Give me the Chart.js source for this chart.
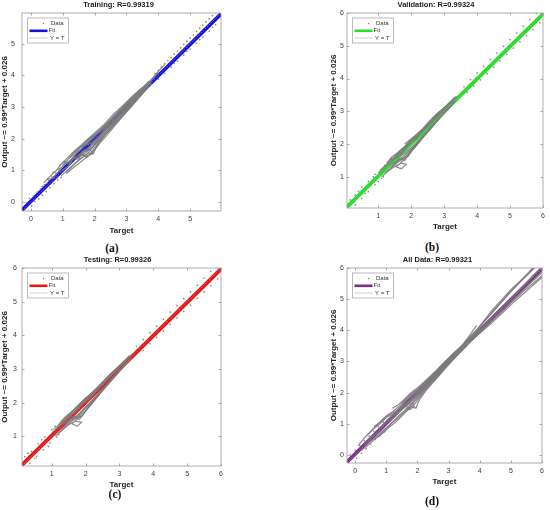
<!DOCTYPE html>
<html><head><meta charset="utf-8">
<script src="https://cdn.jsdelivr.net/npm/chart.js@4.4.1/dist/chart.umd.min.js"></script>
<style>
html,body{margin:0;padding:0;background:#fff;}
#wrap{position:relative;width:550px;height:510px;background:#fff;overflow:hidden;}
.pane{position:absolute;width:275px;height:240px;}
.sub{position:absolute;font-family:'Liberation Serif','Times New Roman',serif;font-weight:bold;font-size:11.5px;color:#111;transform:translate(-50%,-50%);white-space:nowrap;}
</style></head><body>
<div id="wrap">
  <div class="pane" style="left:0;top:0"><canvas id="cA"></canvas></div>
  <div class="pane" style="left:275px;top:0"><canvas id="cB"></canvas></div>
  <div class="pane" style="left:0;top:255px"><canvas id="cC"></canvas></div>
  <div class="pane" style="left:275px;top:255px"><canvas id="cD"></canvas></div>
  <div class="sub" style="left:112px;top:248px">(a)</div>
  <div class="sub" style="left:432px;top:247px">(b)</div>
  <div class="sub" style="left:115px;top:494px">(c)</div>
  <div class="sub" style="left:432px;top:501px">(d)</div>
</div>
<script>
// ---------------- DATA ----------------
const panelTitles = ['Training: R=0.99319', 'Validation: R=0.99324', 'Testing: R=0.99326', 'All Data: R=0.99321'];
const legendLabels = ['Data', 'Fit', 'Y = T'];
const xAxisTitle = 'Target';
const yAxisTitle = 'Output ~= 0.99*Target + 0.026';

const rangeA = [-0.28, 5.97];
const rangeB = [0.05, 6.0];
const rangeC = [0.12, 6.0];
const rangeD = [-0.26, 6.0];

const ticksA = [0, 1, 2, 3, 4, 5];
const ticksB = [1, 2, 3, 4, 5, 6];
const ticksC = [1, 2, 3, 4, 5, 6];
const ticksD = [0, 1, 2, 3, 4, 5, 6];

// fit lines (Output ~= 0.99*Target + 0.026) end points
const fitA = [[-0.28, -0.25], [5.97, 5.94]];
const fitB = [[0.05, 0.08], [6.0, 5.97]];
const fitC = [[0.12, 0.15], [6.0, 5.97]];
const fitD = [[-0.26, -0.23], [6.0, 5.97]];

// Y = T lines
const idA = [[-0.28, -0.28], [5.97, 5.97]];
const idB = [[0.05, 0.05], [6.0, 6.0]];
const idC = [[0.12, 0.12], [6.0, 6.0]];
const idD = [[-0.26, -0.26], [6.0, 6.0]];

// scattered data points
const dotsA = [[-0.15,-0.02],[-0.05,0.12],[0.02,-0.12],[0.08,0.2],[0.12,0.02],[0.2,0.32],[0.25,0.1],[0.3,0.42],[0.36,0.22],[0.42,0.55],[0.48,0.33],[0.55,0.68],[0.6,0.45],[0.66,0.8],[0.72,0.58],[0.78,0.92],[0.84,0.7],[0.9,1.05],[0.95,0.78],[0.5,0.6],[0.7,0.95],[0.35,0.5],
  [3.9,4.06],[4.0,4.16],[4.1,4.26],[4.2,4.37],[4.3,4.47],[4.4,4.57],[4.5,4.67],[4.6,4.77],[4.7,4.87],[4.8,4.98],[4.9,5.08],[5.0,5.18],[5.1,5.28],[5.2,5.39],[5.3,5.49],[5.4,5.59],[5.5,5.69],[5.6,5.79],[5.7,5.89],[5.8,5.99],
  [4.0,3.88],[4.2,4.07],[4.4,4.26],[4.6,4.45],[4.8,4.64],[5.0,4.83],[5.2,5.02],[5.4,5.21],[5.6,5.4],[5.8,5.6],
  [4.5,4.38],[4.9,4.76],[5.3,5.13],[5.7,5.52]];
const dotsB = [[0.15,0.3],[0.3,0.45],[0.5,0.68],[0.7,0.86],[0.9,1.08],[3.6,3.75],[3.8,3.97],[4.0,4.17],[4.2,4.37],[4.4,4.58],[4.6,4.78],[4.8,4.98],[5.0,5.19],[5.2,5.39],[5.4,5.6],[5.6,5.8],[5.8,5.99],
  [0.3,0.14],[0.5,0.34],[0.7,0.55],[0.9,0.76],[1.1,0.95],[3.7,3.58],[3.9,3.77],[4.1,3.96],[4.3,4.15],[4.5,4.35],[4.7,4.54],[4.9,4.74],[5.1,4.93],[5.3,5.12],[5.5,5.31],[5.7,5.5],[5.9,5.7],
  [0.4,0.55],[0.6,0.5],[0.85,1.0],[1.0,0.85],[1.2,1.35],[1.15,1.0],[1.3,1.2],[1.4,1.55]];
const dotsC = [[0.2,0.4],[0.4,0.55],[0.6,0.78],[0.8,0.98],[1.0,1.2],[3.5,3.68],[3.7,3.88],[3.9,4.08],[4.1,4.28],[4.3,4.48],[4.5,4.69],[4.7,4.89],[4.9,5.09],[5.1,5.29],[5.3,5.49],[5.5,5.7],[5.7,5.9],[5.9,6.0],
  [0.35,0.2],[0.55,0.4],[0.75,0.6],[0.95,0.8],[1.15,0.98],[3.7,3.55],[3.9,3.75],[4.1,3.94],[4.3,4.13],[4.5,4.33],[4.7,4.52],[4.9,4.71],[5.1,4.9],[5.3,5.1],[5.5,5.29],[5.7,5.48],[5.9,5.68],
  [0.3,0.5],[0.5,0.35],[0.7,0.9],[0.9,0.7],[1.1,1.3],[1.2,1.05],[1.3,1.45]];
const dotsD = [[-0.15,0.0],[0.0,0.15],[0.05,-0.1],[0.15,0.3],[0.2,0.05],[0.3,0.45],[0.35,0.2],[0.45,0.6],[0.5,0.35],[0.6,0.75],[0.65,0.5],[0.75,0.9],[0.8,0.62],[0.9,1.05],[0.95,0.75]];

// connected data traces
const tracesA = [
  [[0.85,1.0],[1.05,1.18],[1.25,1.33],[1.45,1.55],[1.65,1.75],[1.9,1.97],[2.2,2.27],[2.6,2.66],[3.0,3.07],[3.4,3.47],[3.8,3.9],[4.2,4.35]],
  [[0.95,0.84],[1.2,1.04],[1.4,1.24],[1.6,1.4],[1.8,1.55],[1.95,1.52],[2.05,1.72],[2.3,2.1],[2.7,2.56],[3.1,3.0],[3.5,3.45],[3.8,3.75]],
  [[1.0,1.15],[1.2,1.38],[1.35,1.58],[1.5,1.7],[1.7,1.8],[1.9,1.86],[2.1,2.04],[2.5,2.5],[2.9,2.93],[3.3,3.35],[3.7,3.72]],
  [[1.2,1.25],[1.45,1.45],[1.65,1.6],[1.85,1.66],[1.95,1.55],[1.78,1.45],[1.6,1.52],[1.82,1.72],[2.1,1.96],[2.4,2.3],[2.8,2.72],[3.2,3.16],[3.6,3.58]],
  [[1.1,0.96],[1.3,1.15],[1.55,1.36],[1.75,1.5],[2.0,1.8],[2.2,2.0],[2.5,2.36],[2.8,2.74],[3.2,3.2],[3.6,3.62],[4.0,4.1]],
  [[1.3,1.5],[1.5,1.66],[1.7,1.9],[1.9,2.06],[2.1,2.2],[2.4,2.46],[2.7,2.8],[3.0,3.12],[3.4,3.5],[3.7,3.82]],
  [[1.5,1.45],[1.7,1.62],[1.95,1.75],[2.2,2.12],[2.45,2.4],[2.75,2.68],[3.05,3.0],[3.35,3.3],[3.65,3.66]],
  [[2.0,2.1],[2.3,2.38],[2.6,2.72],[2.9,3.0],[3.2,3.28],[3.5,3.55],[3.75,3.75]],
  [[0.9,1.15],[1.05,1.28],[1.2,1.2],[1.35,1.42],[1.5,1.35],[1.6,1.6],[1.75,1.68]],
  [[0.4,0.6],[0.6,0.82],[0.8,1.0],[0.95,1.2],[1.1,1.3]],
  [[1.0,1.25],[1.2,1.45],[1.4,1.65],[1.6,1.82],[1.8,2.0],[2.0,2.18],[2.3,2.45],[2.6,2.78],[2.9,3.06],[3.2,3.36],[3.5,3.62]],
  [[1.1,0.9],[1.35,1.1],[1.6,1.3],[1.85,1.5],[2.1,1.85],[2.4,2.2],[2.7,2.5],[3.0,2.85],[3.3,3.2],[3.6,3.55]],
  [[1.4,1.35],[1.6,1.5],[1.75,1.42],[1.95,1.6],[2.2,1.9],[2.5,2.25],[2.8,2.62],[3.1,2.95],[3.4,3.3],[3.7,3.65]],
  [[1.2,1.4],[1.4,1.52],[1.55,1.75],[1.75,1.85],[2.0,2.12],[2.3,2.4],[2.6,2.7],[2.95,3.05],[3.3,3.42],[3.6,3.7]],
  [[1.5,1.4],[1.7,1.55],[1.9,1.7],[2.1,1.92],[2.35,2.18],[2.65,2.5],[2.95,2.82],[3.25,3.15],[3.55,3.5]],
  [[1.6,1.75],[1.8,1.95],[2.05,2.15],[2.3,2.32],[2.6,2.6],[2.9,2.9],[3.2,3.2],[3.5,3.52],[3.8,3.85]],
  [[1.7,1.6],[1.9,1.8],[2.1,2.0],[2.35,2.28],[2.6,2.52],[2.85,2.8],[3.1,3.08],[3.4,3.38]],
  [[0.5,0.72],[0.7,0.75],[0.85,0.95],[1.0,1.02],[1.15,1.12],[1.3,1.28]]
];
const tracesB = [
  [[1.0,1.12],[1.2,1.3],[1.4,1.45],[1.6,1.68],[1.8,1.85],[2.0,2.06],[2.3,2.36],[2.6,2.66],[2.9,2.98],[3.2,3.28]],
  [[1.1,1.0],[1.3,1.18],[1.5,1.32],[1.7,1.42],[1.85,1.38],[1.7,1.25],[1.55,1.3],[1.75,1.5],[1.95,1.72],[2.2,2.0],[2.5,2.38],[2.8,2.72],[3.1,3.05]],
  [[1.25,1.4],[1.4,1.6],[1.6,1.75],[1.8,1.92],[2.0,2.15],[2.2,2.3],[2.5,2.6],[2.8,2.92],[3.1,3.2],[3.35,3.45]],
  [[1.35,1.25],[1.55,1.45],[1.75,1.58],[1.9,1.62],[2.05,1.85],[2.3,2.15],[2.6,2.5],[2.9,2.85],[3.2,3.15]],
  [[1.5,1.55],[1.7,1.7],[1.9,1.98],[2.1,2.12],[2.4,2.45],[2.7,2.78],[3.0,3.08],[3.3,3.35]],
  [[1.6,1.6],[1.85,1.75],[2.1,1.98],[2.35,2.25],[2.65,2.58],[2.95,2.9],[3.25,3.22]],
  [[1.8,2.0],[2.05,2.2],[2.3,2.42],[2.55,2.7],[2.8,2.95],[3.05,3.15]],
  [[1.05,1.2],[1.25,1.38],[1.45,1.55],[1.65,1.78],[1.85,1.95],[2.1,2.2],[2.4,2.5],[2.7,2.82],[3.0,3.1],[3.3,3.4]],
  [[1.2,1.1],[1.4,1.28],[1.6,1.45],[1.8,1.6],[2.0,1.82],[2.25,2.1],[2.55,2.42],[2.85,2.78],[3.15,3.1]],
  [[1.4,1.35],[1.6,1.52],[1.75,1.62],[1.95,1.8],[2.15,2.02],[2.45,2.35],[2.75,2.68],[3.05,3.0],[3.35,3.32]],
  [[1.3,1.45],[1.5,1.62],[1.7,1.82],[1.9,2.02],[2.15,2.22],[2.45,2.52],[2.75,2.85],[3.05,3.12]],
  [[1.5,1.4],[1.65,1.55],[1.8,1.5],[1.9,1.65],[2.1,1.9],[2.4,2.28],[2.7,2.62],[3.0,2.95],[3.3,3.28]],
  [[1.7,1.82],[1.95,2.05],[2.2,2.28],[2.5,2.55],[2.8,2.85],[3.1,3.18],[3.4,3.45]]
];
const tracesC = [
  [[1.0,1.1],[1.2,1.28],[1.4,1.45],[1.6,1.66],[1.8,1.85],[2.0,2.06],[2.3,2.35],[2.6,2.66],[2.9,2.97],[3.2,3.27]],
  [[1.1,1.0],[1.3,1.18],[1.5,1.35],[1.7,1.45],[1.88,1.42],[1.75,1.3],[1.6,1.38],[1.8,1.55],[2.0,1.75],[2.25,2.05],[2.55,2.42],[2.85,2.75],[3.15,3.1]],
  [[1.2,1.35],[1.4,1.58],[1.6,1.74],[1.8,1.92],[2.0,2.14],[2.25,2.32],[2.55,2.62],[2.85,2.94],[3.15,3.22]],
  [[1.3,1.22],[1.5,1.42],[1.7,1.56],[1.9,1.6],[2.05,1.82],[2.3,2.12],[2.6,2.48],[2.9,2.84],[3.2,3.16]],
  [[1.5,1.6],[1.7,1.72],[1.9,1.98],[2.1,2.1],[2.4,2.44],[2.7,2.76],[3.0,3.06],[3.3,3.36]],
  [[1.6,1.5],[1.85,1.72],[2.1,1.96],[2.35,2.24],[2.65,2.56],[2.95,2.88],[3.25,3.22]],
  [[1.8,1.95],[2.05,2.18],[2.3,2.4],[2.55,2.66],[2.8,2.9],[3.05,3.14]],
  [[1.05,1.2],[1.25,1.38],[1.45,1.56],[1.65,1.78],[1.85,1.96],[2.1,2.2],[2.4,2.5],[2.7,2.82],[3.0,3.1],[3.3,3.4]],
  [[1.2,1.1],[1.4,1.28],[1.6,1.46],[1.8,1.6],[2.0,1.84],[2.25,2.1],[2.55,2.42],[2.85,2.78],[3.15,3.1]],
  [[1.4,1.38],[1.6,1.55],[1.78,1.62],[1.95,1.82],[2.15,2.02],[2.45,2.36],[2.75,2.68],[3.05,3.0],[3.35,3.33]],
  [[1.3,1.45],[1.5,1.64],[1.7,1.84],[1.9,2.02],[2.15,2.24],[2.45,2.54],[2.75,2.86],[3.05,3.14]],
  [[1.5,1.45],[1.65,1.58],[1.82,1.5],[1.92,1.66],[2.1,1.9],[2.4,2.28],[2.7,2.62],[3.0,2.96],[3.3,3.28]],
  [[1.7,1.84],[1.95,2.06],[2.2,2.3],[2.5,2.56],[2.8,2.86],[3.1,3.2],[3.4,3.46]]
];
const tracesD = [
  [[0.1,0.3],[0.3,0.55],[0.5,0.75],[0.7,0.95],[0.9,1.15],[1.1,1.3],[1.3,1.4],[1.5,1.55],[1.7,1.7],[1.9,1.9],[2.2,2.2],[2.6,2.62],[3.0,3.03],[3.4,3.45],[3.9,4.15]],
  [[0.2,0.15],[0.4,0.3],[0.6,0.48],[0.8,0.65],[1.0,0.85],[1.2,1.05],[1.4,1.2],[1.6,1.4],[1.8,1.55],[1.95,1.5],[2.05,1.75],[2.3,2.1],[2.7,2.55],[3.1,3.02],[3.5,3.48]],
  [[0.4,0.65],[0.6,0.85],[0.8,1.0],[1.0,1.2],[1.2,1.3],[1.4,1.4],[1.6,1.6],[1.8,1.78],[2.0,1.96],[2.4,2.4],[2.8,2.82],[3.2,3.22],[3.6,3.62],[4.4,4.65],[5.0,5.3],[5.75,6.0]],
  [[0.5,0.45],[0.7,0.6],[0.9,0.78],[1.1,0.95],[1.3,1.15],[1.5,1.35],[1.7,1.5],[1.9,1.75],[2.2,2.08],[2.5,2.4],[2.9,2.85],[3.3,3.3],[3.7,3.7],[4.5,4.42],[5.2,5.1],[6.0,5.9]],
  [[1.0,1.1],[1.2,1.25],[1.4,1.48],[1.6,1.7],[1.8,1.88],[2.0,2.05],[2.3,2.35],[2.7,2.75],[3.1,3.15],[3.5,3.52],[4.2,4.2],[5.0,5.0],[6.0,6.05]],
  [[1.3,1.3],[1.5,1.45],[1.7,1.62],[1.85,1.65],[1.9,1.55],[1.75,1.45],[1.65,1.55],[1.85,1.75],[2.1,1.98],[2.4,2.32],[2.8,2.72],[3.2,3.15],[3.6,3.55],[4.4,4.25],[5.2,5.0],[6.0,5.7]],
  [[1.5,1.65],[1.7,1.85],[1.9,2.02],[2.1,2.15],[2.4,2.46],[2.7,2.8],[3.0,3.1],[3.4,3.48],[3.8,3.9],[4.3,4.45],[5.0,5.25],[5.8,6.05]],
  [[2.0,1.9],[2.3,2.2],[2.6,2.5],[2.9,2.85],[3.2,3.18],[3.5,3.45],[4.0,3.92],[4.7,4.6],[5.5,5.4],[6.0,5.85]],
  [[0.3,0.3],[0.5,0.55],[0.7,0.7],[0.9,0.95],[1.1,1.1],[1.3,1.25],[1.5,1.5],[1.7,1.65],[2.0,2.0],[2.4,2.36],[2.8,2.78],[3.2,3.2],[3.6,3.6],[4.0,4.05]],
  [[0.6,0.9],[0.8,1.05],[1.0,1.25],[1.2,1.38],[1.4,1.55],[1.6,1.75],[1.8,1.95],[2.1,2.2],[2.5,2.58],[2.9,2.98],[3.3,3.38],[3.7,3.78]],
  [[0.7,0.55],[0.9,0.7],[1.1,0.9],[1.3,1.05],[1.5,1.25],[1.7,1.45],[1.9,1.62],[2.15,1.95],[2.45,2.3],[2.8,2.7],[3.2,3.12],[3.6,3.52]],
  [[1.2,1.5],[1.4,1.62],[1.6,1.8],[1.8,2.0],[2.0,2.15],[2.3,2.42],[2.6,2.7],[2.9,3.0],[3.2,3.3],[3.5,3.55]],
  [[1.6,1.45],[1.8,1.6],[2.0,1.82],[2.3,2.15],[2.6,2.48],[2.9,2.8],[3.2,3.12],[3.5,3.45],[3.9,3.85],[4.6,4.5],[5.4,5.25],[6.0,5.75]],
  [[3.5,3.6],[3.9,4.0],[4.5,4.7],[5.1,5.35],[5.7,6.0]]
];

// ---------------- STYLE / LAYOUT ----------------
const fitColors = ['#1212dc', '#26e026', '#ec1414', '#7b2d8b'];
const layouts = [
  {padL:0,  yW:22, padR:54, top:13, xH:29, xTitlePad:4.2, xTickPad:3.5, yTickPad:7, titleDX:-3},
  {padL:54, yW:18, padR:7,  top:13, xH:32, xTitlePad:8.5, xTickPad:3.5, yTickPad:3, titleDX:-9},
  {padL:0,  yW:22, padR:54, top:13, xH:29, xTitlePad:5.2, xTickPad:3.5, yTickPad:5, titleDX:-4},
  {padL:54, yW:18, padR:8,  top:13, xH:32, xTitlePad:8.5, xTickPad:3.5, yTickPad:3, titleDX:-7}
];
const FONT = "'Liberation Sans', Arial, sans-serif";
Chart.defaults.font.family = FONT;

const decorPlugin = {
  id: 'decor',
  afterDatasetsDraw(chart, args, opts) {
    const ctx = chart.ctx, a = chart.chartArea;
    ctx.save();
    ctx.strokeStyle = '#8a8a8a'; ctx.lineWidth = 0.7;
    const xs = chart.scales.x, ys = chart.scales.y;
    xs.ticks.forEach(t => {
      const p = Math.round(xs.getPixelForValue(t.value)) + 0.5;
      ctx.beginPath(); ctx.moveTo(p, a.bottom); ctx.lineTo(p, a.bottom - 2.5);
      ctx.moveTo(p, a.top); ctx.lineTo(p, a.top + 2.5); ctx.stroke();
    });
    ys.ticks.forEach(t => {
      const p = Math.round(ys.getPixelForValue(t.value)) + 0.5;
      ctx.beginPath(); ctx.moveTo(a.left, p); ctx.lineTo(a.left + 2.5, p);
      ctx.moveTo(a.right, p); ctx.lineTo(a.right - 2.5, p); ctx.stroke();
    });
    ctx.strokeStyle = '#9a9a9a'; ctx.lineWidth = 0.8;
    ctx.strokeRect(a.left, a.top, a.right - a.left, a.bottom - a.top);
    ctx.fillStyle = '#1a1a1a';
    ctx.font = 'bold 7.5px ' + FONT;
    ctx.textAlign = 'center'; ctx.textBaseline = 'middle';
    ctx.fillText(opts.title, (a.left + a.right) / 2 + opts.dx, a.top - 8);
    const lx = a.left + 5.5, ly = a.top + 5, lw = 41, lh = 25;
    ctx.fillStyle = '#fff'; ctx.fillRect(lx, ly, lw, lh);
    ctx.strokeStyle = '#a0a0a0'; ctx.lineWidth = 0.7; ctx.strokeRect(lx, ly, lw, lh);
    ctx.font = '6px ' + FONT; ctx.textAlign = 'left';
    const rows = [ly + 5.5, ly + 12.8, ly + 20];
    ctx.fillStyle = '#777'; ctx.beginPath(); ctx.arc(lx + 16, rows[0], 0.7, 0, Math.PI * 2); ctx.fill();
    ctx.strokeStyle = opts.color; ctx.lineWidth = 2.6;
    ctx.beginPath(); ctx.moveTo(lx + 2, rows[1]); ctx.lineTo(lx + 20, rows[1]); ctx.stroke();
    ctx.strokeStyle = '#b0b0b0'; ctx.lineWidth = 0.6;
    ctx.beginPath(); ctx.moveTo(lx + 2, rows[2]); ctx.lineTo(lx + 20, rows[2]); ctx.stroke();
    ctx.fillStyle = '#333';
    ctx.fillText(legendLabels[0], lx + 23.5, rows[0]);
    ctx.fillText(legendLabels[1], lx + 21, rows[1]);
    ctx.fillText(legendLabels[2], lx + 22.5, rows[2]);
    ctx.restore();
  }
};

const pts = arr => arr.map(p => ({x: p[0], y: p[1]}));

function makeChart(id, idx, range, ticks, dots, traces, fit, ident) {
  const L = layouts[idx];
  const datasets = [];
  traces.forEach(t => datasets.push({label: legendLabels[0], data: pts(t), showLine: true, borderColor: 'rgba(125,125,125,0.85)', borderWidth: 1.3, pointRadius: 0, order: 1}));
  datasets.push({label: legendLabels[0], data: pts(dots), showLine: false, pointRadius: 0.85, pointBackgroundColor: '#8a8a8a', pointBorderWidth: 0, order: 1});
  datasets.push({label: legendLabels[2], data: pts(ident), showLine: true, borderColor: '#a0a0a0', borderWidth: 0.7, borderDash: [1.5, 1.5], pointRadius: 0, order: 2});
  datasets.push({label: legendLabels[1], data: pts(fit), showLine: true, borderColor: fitColors[idx], borderWidth: 3.8, pointRadius: 0, order: 3});
  const axisCommon = (isX) => ({
    type: 'linear', min: range[0], max: range[1],
    afterBuildTicks: s => { s.ticks = ticks.map(v => ({value: v})); },
    grid: {display: false, drawTicks: false},
    border: {display: false},
    ticks: {padding: isX ? L.xTickPad : L.yTickPad, font: {size: 7}, color: '#3c3c3c', autoSkip: false, maxRotation: 0, callback: v => String(v)},
    title: {display: true, text: isX ? xAxisTitle : yAxisTitle, color: '#262626', font: {size: 8, weight: 'bold'},
            padding: isX ? {top: 0, bottom: L.xTitlePad} : {top: 0, bottom: 0}}
  });
  const xs = axisCommon(true); xs.afterFit = s => { s.height = L.xH; };
  const ys = axisCommon(false); ys.afterFit = s => { s.width = L.yW; };
  return new Chart(document.getElementById(id), {
    type: 'scatter',
    data: {datasets},
    options: {
      responsive: true, maintainAspectRatio: false, animation: false, events: [],
      layout: {padding: {left: L.padL, right: L.padR, top: L.top, bottom: 0}},
      plugins: {legend: {display: false}, tooltip: {enabled: false}, title: {display: false},
                decor: {title: panelTitles[idx], dx: L.titleDX, color: fitColors[idx]}},
      scales: {x: xs, y: ys}
    },
    plugins: [decorPlugin]
  });
}

makeChart('cA', 0, rangeA, ticksA, dotsA, tracesA, fitA, idA);
makeChart('cB', 1, rangeB, ticksB, dotsB, tracesB, fitB, idB);
makeChart('cC', 2, rangeC, ticksC, dotsC, tracesC, fitC, idC);
makeChart('cD', 3, rangeD, ticksD, dotsD, tracesD, fitD, idD);
</script>
</body></html>
